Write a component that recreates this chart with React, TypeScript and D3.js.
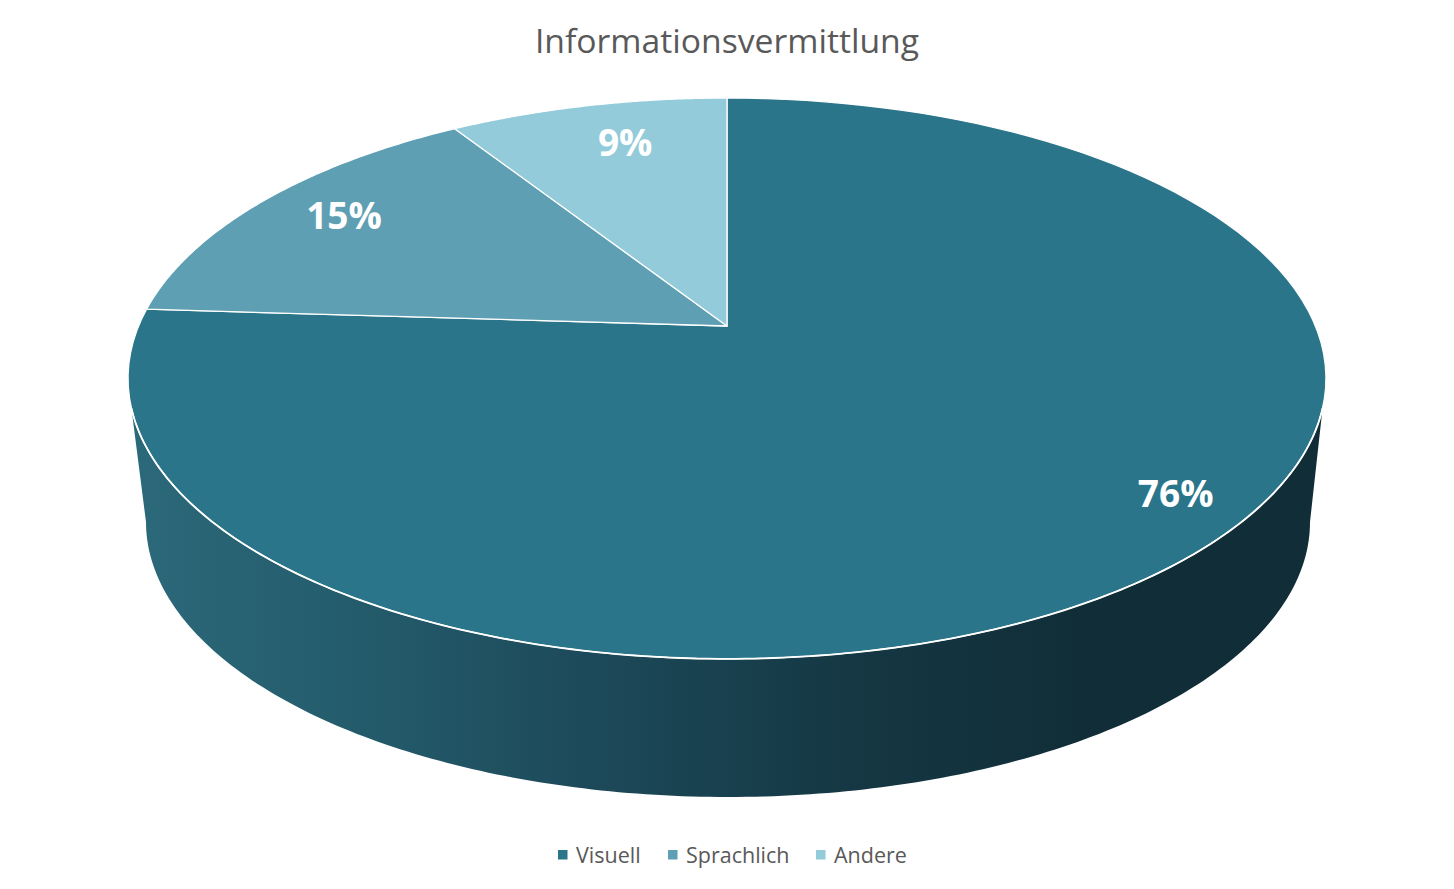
import React from "react";
import * as d3 from "d3";

const title = "Informationsvermittlung";
const categories = ["Visuell", "Sprachlich", "Andere"];
const values = [76, 15, 9];
const sliceColors = ["#2a7589", "#5f9fb3", "#93cbda"];
const wallStops = ["#2b6879", "#235a6a", "#1c4858", "#153844", "#112e38", "#112e38"];
const legendTextX = [576, 686, 834];
const legendSwatchX = [558, 668, 816];
const labelOffsets = [[87, -9], [-6.5, -7.6], [13, -2]];

const W = 1454, H = 889;
const apex = { x: 727, y: 326 };
const persp = 0.187, dX = 588.4, dY = 270.6;
const bottom = { cx: 728, cy: 522, rx: 582, ry: 275 };
const rimFrom = 1.862, rimTo = 2 * Math.PI - 1.862;
const FONT = "'Open Sans', 'Noto Sans', sans-serif";

const project = (theta: number, r = 1): [number, number] => {
  const u = r * Math.sin(theta), v = -r * Math.cos(theta);
  const den = 1 - persp * v;
  return [apex.x + (dX * u) / den, apex.y + (dY * v) / den];
};

export default function App() {
  const arcs = d3.pie<number>().sort(null)(values);
  const line = d3.line();
  const slicePath = (a: number, b: number) => {
    const pts: [number, number][] = d3.range(0, 121).map(i => project(a + ((b - a) * i) / 120));
    return line([[apex.x, apex.y], ...pts])! + "Z";
  };
  const rimFront = d3.range(0, 201).map(i => project(rimFrom + ((rimTo - rimFrom) * i) / 200)) as [number, number][];
  const lower = d3.range(0, 201).map(i => {
    const t = Math.PI - (Math.PI * i) / 200;
    return [bottom.cx + bottom.rx * Math.cos(t), bottom.cy + bottom.ry * Math.sin(t)] as [number, number];
  });
  const wall = line([...rimFront, ...lower])! + "Z";
  const rimLine = line(rimFront)!;
  return (
    <svg width={W} height={H} viewBox={`0 0 ${W} ${H}`} style={{ position: "absolute", left: 0, top: 0, background: "#fff" }}>
      <defs>
        <linearGradient id="wall" gradientUnits="userSpaceOnUse" x1={146} x2={1310} y1={0} y2={0}>
          {wallStops.map((c, i) => <stop key={i} offset={i / (wallStops.length - 1)} stopColor={c} />)}
        </linearGradient>
      </defs>
      <text x={727} y={53} textAnchor="middle" fontFamily={FONT} fontSize={33.7} fill="#595959">{title}</text>
      <path d={wall} fill="url(#wall)" />
      {arcs.map((a, i) => (
        <path key={i} d={slicePath(a.startAngle, a.endAngle)} fill={sliceColors[i]} stroke="#fff" strokeWidth={1.3} strokeLinejoin="round" />
      ))}
      <path d={rimLine} fill="none" stroke="#fff" strokeWidth={1.8} />
      {arcs.map((a, i) => {
        const [x, y] = project((a.startAngle + a.endAngle) / 2, 0.8);
        return (
          <text key={i} x={x + labelOffsets[i][0]} y={y + labelOffsets[i][1]} dy="0.36em" textAnchor="middle"
            fontFamily={FONT} fontSize={37} fontWeight={700} fill="#fff">{`${values[i]}%`}</text>
        );
      })}
      {categories.map((c, i) => (
        <g key={c}>
          <rect x={legendSwatchX[i]} y={850} width={9.5} height={9.5} fill={sliceColors[i]} />
          <text x={legendTextX[i]} y={863} fontFamily={FONT} fontSize={21.5} fill="#595959">{c}</text>
        </g>
      ))}
    </svg>
  );
}
